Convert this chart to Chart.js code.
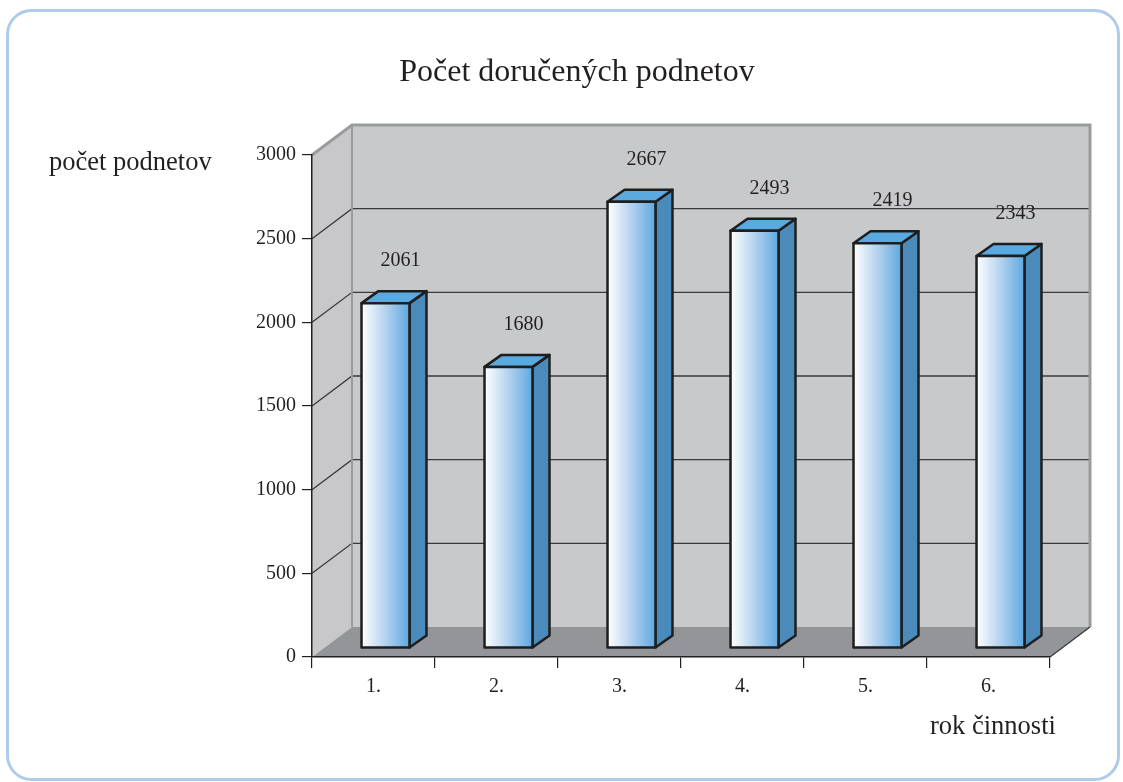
<!DOCTYPE html>
<html lang="sk">
<head>
    <meta charset="UTF-8">
    <title>Počet doručených podnetov</title>
    <script src="https://cdn.jsdelivr.net/npm/chart.js"></script>
    <style>
        html, body { margin: 0; padding: 0; background: #ffffff; }
        #wrap { width: 1123px; height: 782px; }
    </style>
</head>
<body>
    <div id="wrap"><canvas id="podnetyChart"></canvas></div>

    <script>
        // data
        const years = ['1.', '2.', '3.', '4.', '5.', '6.'];
        const counts = [2061, 1680, 2667, 2493, 2419, 2343];
        const yTicks = [0, 500, 1000, 1500, 2000, 2500, 3000];

        const chartTitle = 'Počet doručených podnetov';
        const yTitle = 'počet podnetov';
        const xTitle = 'rok činnosti';

        const ink = '#231f20';
        const serif = '"Liberation Serif", "DejaVu Serif", serif';

        // 3D look: wall depth and bar placement/depth
        const wallDx = 40, wallDy = -30;
        const barOx = 12, barOy = -9;
        const barDx = 17, barDy = -12;

        const scene3d = {
            id: 'scene3d',
            beforeDraw(chart) {
                const ctx = chart.ctx;
                const a = chart.chartArea;
                const yScale = chart.scales.y;
                ctx.save();

                // outer frame
                ctx.strokeStyle = '#aecbea';
                ctx.lineWidth = 3;
                ctx.beginPath();
                ctx.roundRect(7.5, 10.5, 1111, 769, 24);
                ctx.stroke();

                // left wall
                ctx.fillStyle = '#c8c8ca';
                ctx.beginPath();
                ctx.moveTo(a.left, a.bottom);
                ctx.lineTo(a.left, a.top);
                ctx.lineTo(a.left + wallDx, a.top + wallDy);
                ctx.lineTo(a.left + wallDx, a.bottom + wallDy);
                ctx.closePath();
                ctx.fill();

                // back wall
                ctx.fillStyle = '#c8c9cb';
                ctx.fillRect(a.left + wallDx, a.top + wallDy, a.right - a.left, a.bottom - a.top);

                // floor
                ctx.fillStyle = '#939598';
                ctx.beginPath();
                ctx.moveTo(a.left, a.bottom);
                ctx.lineTo(a.left + wallDx, a.bottom + wallDy);
                ctx.lineTo(a.right + wallDx, a.bottom + wallDy);
                ctx.lineTo(a.right, a.bottom);
                ctx.closePath();
                ctx.fill();

                // grid lines on walls
                ctx.strokeStyle = '#3a3a3c';
                ctx.lineWidth = 1.3;
                yTicks.forEach(v => {
                    if (v === 0 || v === 3000) return;
                    const py = yScale.getPixelForValue(v);
                    ctx.beginPath();
                    ctx.moveTo(a.left, py);
                    ctx.lineTo(a.left + wallDx, py + wallDy);
                    ctx.lineTo(a.right + wallDx, py + wallDy);
                    ctx.stroke();
                });

                // wall edges
                ctx.strokeStyle = '#9a9b9d';
                ctx.lineWidth = 3;
                ctx.beginPath();
                ctx.moveTo(a.left, a.top);
                ctx.lineTo(a.left + wallDx, a.top + wallDy);
                ctx.lineTo(a.right + wallDx, a.top + wallDy);
                ctx.lineTo(a.right + wallDx, a.bottom + wallDy);
                ctx.stroke();
                ctx.lineWidth = 2;
                ctx.beginPath();
                ctx.moveTo(a.left + wallDx, a.top + wallDy);
                ctx.lineTo(a.left + wallDx, a.bottom + wallDy);
                ctx.stroke();

                // floor right edge
                ctx.strokeStyle = '#3a3a3c';
                ctx.lineWidth = 1.3;
                ctx.beginPath();
                ctx.moveTo(a.right, a.bottom);
                ctx.lineTo(a.right + wallDx, a.bottom + wallDy);
                ctx.stroke();

                // texts
                ctx.fillStyle = ink;
                ctx.textBaseline = 'middle';
                ctx.textAlign = 'center';
                ctx.font = '32px ' + serif;
                ctx.fillText(chartTitle, 577, 73);
                ctx.textAlign = 'left';
                ctx.font = '26.5px ' + serif;
                ctx.fillText(yTitle, 49, 163);
                ctx.fillText(xTitle, 930, 727);
                ctx.restore();
            },
            afterDatasetsDraw(chart) {
                const ctx = chart.ctx;
                const meta = chart.getDatasetMeta(0);
                ctx.save();
                meta.data.forEach((bar, i) => {
                    const p = bar.getProps(['x', 'y', 'base', 'width'], true);
                    const l = p.x - p.width / 2 + barOx;
                    const r = p.x + p.width / 2 + barOx;
                    const t = p.y + barOy;
                    const b = p.base + barOy;

                    ctx.lineJoin = 'round';
                    ctx.lineWidth = 2.5;
                    ctx.strokeStyle = '#1e1e1e';

                    // side
                    ctx.fillStyle = '#4a8bbb';
                    ctx.beginPath();
                    ctx.moveTo(r, b);
                    ctx.lineTo(r, t);
                    ctx.lineTo(r + barDx, t + barDy);
                    ctx.lineTo(r + barDx, b + barDy);
                    ctx.closePath();
                    ctx.fill();
                    ctx.stroke();

                    // top
                    ctx.fillStyle = '#5aa9df';
                    ctx.beginPath();
                    ctx.moveTo(l, t);
                    ctx.lineTo(l + barDx, t + barDy);
                    ctx.lineTo(r + barDx, t + barDy);
                    ctx.lineTo(r, t);
                    ctx.closePath();
                    ctx.fill();
                    ctx.stroke();

                    // front
                    const g = ctx.createLinearGradient(l, 0, r, 0);
                    g.addColorStop(0, '#ffffff');
                    g.addColorStop(0.5, '#b4d2ee');
                    g.addColorStop(1, '#5ea8e0');
                    ctx.fillStyle = g;
                    ctx.fillRect(l, t, r - l, b - t);
                    ctx.strokeRect(l, t, r - l, b - t);

                    // value label
                    ctx.fillStyle = ink;
                    ctx.font = '20px ' + serif;
                    ctx.textAlign = 'center';
                    ctx.textBaseline = 'middle';
                    ctx.fillText(String(counts[i]), (l + r) / 2 + 15, t - 42);
                });
                ctx.restore();
            }
        };

        new Chart(document.getElementById('podnetyChart'), {
            type: 'bar',
            data: {
                labels: years,
                datasets: [{
                    label: yTitle,
                    data: counts,
                    backgroundColor: 'rgba(0,0,0,0)',
                    borderWidth: 0,
                    categoryPercentage: 1,
                    barPercentage: 0.39
                }]
            },
            options: {
                responsive: true,
                maintainAspectRatio: false,
                animation: false,
                layout: { padding: { left: 0, top: 155, right: 73, bottom: 0 } },
                plugins: {
                    legend: { display: false },
                    title: { display: false },
                    tooltip: { enabled: false }
                },
                scales: {
                    x: {
                        offset: true,
                        afterFit(scale) { scale.height = 125; },
                        grid: {
                            offset: true,
                            drawOnChartArea: false,
                            drawTicks: true,
                            tickLength: 11,
                            color: ink,
                            lineWidth: 1.2
                        },
                        border: { display: true, color: ink, width: 1.5 },
                        ticks: {
                            color: ink,
                            padding: 7,
                            font: { family: serif, size: 20 }
                        }
                    },
                    y: {
                        min: 0,
                        max: 3000,
                        afterFit(scale) { scale.width = 312; },
                        afterBuildTicks(scale) { scale.ticks = yTicks.map(v => ({ value: v })); },
                        grid: {
                            drawOnChartArea: false,
                            drawTicks: true,
                            tickLength: 10,
                            color: ink,
                            lineWidth: 1.2
                        },
                        border: { display: true, color: ink, width: 1.5 },
                        ticks: {
                            color: ink,
                            padding: 6,
                            font: { family: serif, size: 20 },
                            callback: v => String(v)
                        }
                    }
                }
            },
            plugins: [scene3d]
        });
    </script>
</body>
</html>
